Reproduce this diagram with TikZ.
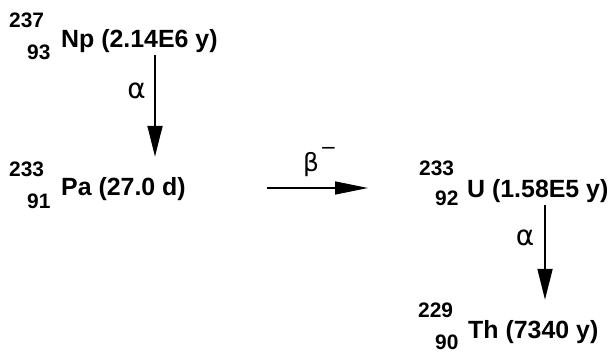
\documentclass[tikz,border=0pt]{standalone}
\usepackage{fontspec}
\setmainfont{Liberation Sans}
\newfontfamily\greekfont{DejaVu Sans}
\usetikzlibrary{arrows.meta}

\begin{document}
\begin{tikzpicture}[x=1bp, y=1bp,
  nuclide/.style={font=\fontsize{25}{29}\selectfont\bfseries, inner sep=0pt, anchor=base west},
  nucnum/.style={font=\fontsize{21}{24}\selectfont\bfseries, inner sep=0pt, anchor=base west},
  decay/.style={line width=1.8bp, -{Triangle[length=31bp, width=15bp]}},
  mode/.style={font=\fontsize{28}{32}\selectfont\greekfont, inner sep=0pt, anchor=base}]
  \useasboundingbox (0,0) rectangle (615,352);
  % parent
  \node[nuclide] (np) at (61,305) {Np (2.14E6 y)};
  \node[nucnum] (npA) at (9,325) {237};
  \node[nucnum] (npZ) at (27,293) {93};
  % first daughter
  \node[nuclide] (pa) at (61,157) {Pa (27.0 d)};
  \node[nucnum] (paA) at (9,176) {233};
  \node[nucnum] (paZ) at (27,144) {91};
  % second daughter
  \node[nuclide] (u) at (467,155) {U (1.58E5 y)};
  \node[nucnum] (uA) at (419,177) {233};
  \node[nucnum] (uZ) at (435,147) {92};
  % third daughter
  \node[nuclide] (th) at (468,14) {Th (7340 y)};
  \node[nucnum] (thA) at (418,35) {229};
  \node[nucnum] (thZ) at (435,3) {90};
  % decays
  \coordinate (ax1) at (155,0);
  \coordinate (ax3) at (545,0);
  \coordinate (by) at (0,164);
  \draw[decay, shorten <=3bp, shorten >=20bp] (np.south -| ax1) -- (pa.north -| ax1);
  \draw[decay, shorten <=3bp, shorten >=20bp] (u.south -| ax3) -- (th.north -| ax3);
  \draw[decay, line width=1.5bp, -{Triangle[length=33bp, width=13bp]},
    shorten <=206bp, shorten >=99bp] (pa.west |- by) -- (u.west |- by);
  \node[mode] (a1) at (136.5,254) {α};
  \node[mode] (a3) at (525,107) {α};
  \node[mode, font=\fontsize{25}{30}\selectfont\greekfont, anchor=base west] (b2) at (303,181) {β\kern1bp\raisebox{17bp}{\fontsize{20}{20}\selectfont −}};
\end{tikzpicture}
\end{document}
